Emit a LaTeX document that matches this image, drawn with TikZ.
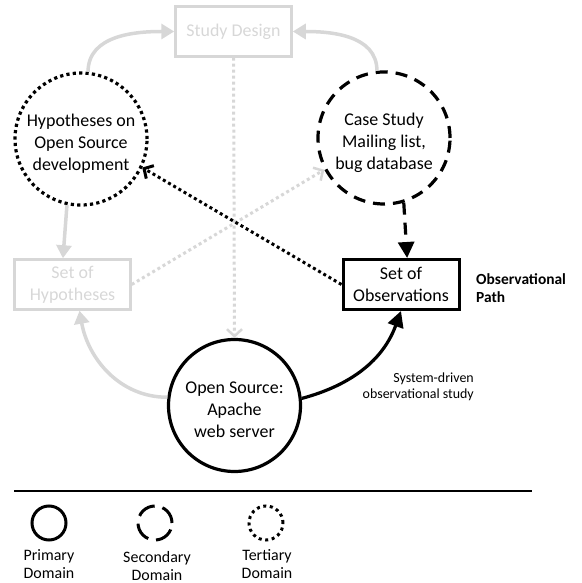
\documentclass[tikz,border=0pt]{standalone}
\usepackage{fontspec}
\setmainfont{Carlito}
\usetikzlibrary{arrows.meta}
\definecolor{lg}{RGB}{215,215,215}
\begin{document}
\begin{tikzpicture}[x=1bp,y=1bp,
  txt/.style={font=\fontsize{18}{22}\selectfont, align=center},
  primc/.style={circle, draw=black, line width=3.2bp, minimum size=132bp, inner sep=0pt},
  secc/.style={primc, dash pattern=on 12bp off 8bp},
  terc/.style={primc, dash pattern=on 3.2bp off 3.2bp},
  ctext/.style={label={[txt, yshift=-4.5bp, inner sep=0pt]center:{#1}}},
  gbox/.style={rectangle, draw=lg, line width=2.5bp, minimum width=116bp, minimum height=50bp, inner sep=0pt, txt, text=lg},
  bbox/.style={gbox, draw=black, text=black, line width=3bp},
  garr/.style={draw=lg, line width=3.5bp, -{Triangle[length=13bp,width=15bp]}},
  gdot/.style={draw=lg, line width=3bp, dash pattern=on 3bp off 3bp, -{Straight Barb[length=7bp,width=15bp,line width=2.5bp]}},
  barr/.style={draw=black, line width=3.2bp, -{Triangle[length=16bp,width=16bp]}},
  bdash/.style={barr, dash pattern=on 12bp off 8bp},
  bdot/.style={draw=black, line width=3bp, dash pattern=on 3bp off 3bp, -{Straight Barb[length=7bp,width=15bp,line width=3bp]}},
  legc/.style={circle, draw=black, line width=3bp, minimum size=34bp, inner sep=0pt},
  leglab/.style={font=\fontsize{16}{18}\selectfont, align=center},
  smalltxt/.style={font=\fontsize{14}{16}\selectfont, align=right},
  boldtxt/.style={font=\fontsize{15.5}{18}\selectfont\bfseries, align=left}
]
\useasboundingbox (0,0) rectangle (582,583);

% main nodes
\node[gbox] (sd) at (233.5,551.5) {Study Design};
\node[terc, ctext={Hypotheses on\\Open Source\\development}] (hyp) at (81,444) {};
\node[secc, ctext={Case Study\\Mailing list,\\bug database}] (cs) at (384,445) {};
\node[gbox, yshift=-1.5bp] (soh) at (72.5,300) {Set of\\Hypotheses};
\node[bbox, yshift=-1.5bp] (soo) at (401,300) {Set of\\Observations};
\node[primc, ctext={Open Source:\\Apache\\web server}] (os) at (234.5,177.5) {};

\node[boldtxt, anchor=west, inner sep=0pt] (obs) at (476,295) {Observational\\Path};
\node[smalltxt, anchor=east, inner sep=0pt] (sys) at (474,196) {System-driven\\observational study};

% gray connectors
\draw[garr] (hyp.84) to[out=90,in=180] (sd.west);
\draw[garr] (cs.96) to[out=90,in=0] (sd.east);
\draw[gdot] (sd.south) -- (os.north);
\draw[gdot] (soh.east) -- (cs.208);
\draw[garr] (hyp.258) -- (soh.110);
\draw[garr] (os.173) to[out=180,in=280] (soh.285);

% black connectors
\draw[bdash] (cs.287) -- (soo.77);
\draw[bdot] (soo.west) -- (hyp.335);
\draw[barr] (os.6) to[out=15,in=250] (soo.south);

% legend
\coordinate (la) at (14,92);
\coordinate (lb) at (532,92);
\draw[line width=2.5bp] (la) -- (lb);
\node[legc] (lp) at (49,60) {};
\node[legc, dash pattern=on 19bp off 8bp] (ls) at (155,60) {};
\node[legc, dash pattern=on 3bp off 3.6bp] (lt) at (266,60) {};
\node[leglab] (lpl) at (49,19) {Primary\\Domain};
\node[leglab] (lsl) at (157,17) {Secondary\\Domain};
\node[leglab] (ltl) at (267,19) {Tertiary\\Domain};
\end{tikzpicture}
\end{document}
